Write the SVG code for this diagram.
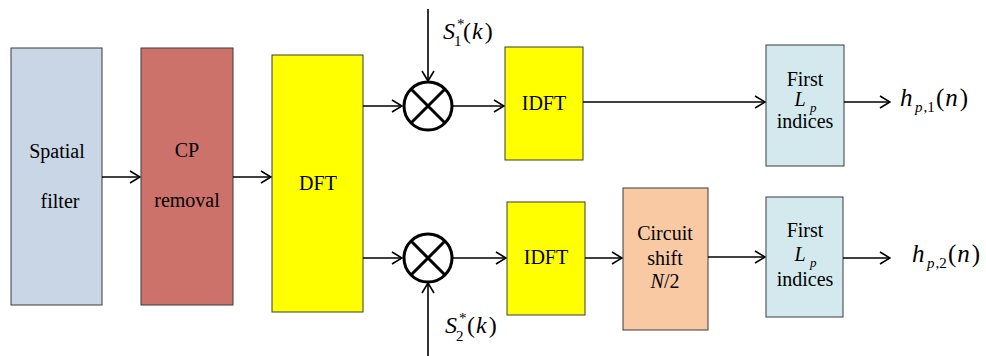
<svg xmlns="http://www.w3.org/2000/svg" width="986" height="356" viewBox="0 0 986 356" font-family="Liberation Serif, serif">
<defs>
<marker id="ah" viewBox="0 0 12 14" refX="11" refY="7" markerWidth="12" markerHeight="14" markerUnits="userSpaceOnUse" orient="auto">
<path d="M1,1 L11,7 L1,13" fill="none" stroke="#000" stroke-width="1.6"/>
</marker>
<style>
.box{stroke:#3a3a3a;stroke-width:1}
.lbl{fill:#000;text-anchor:middle;font-size:20px}
.it{font-style:italic}
.conn line{stroke:#000;stroke-width:1.6;fill:none}
.mul circle{fill:#fff;stroke:#000;stroke-width:3}
.mul path{stroke:#000;stroke-width:3;fill:none}
</style>
</defs>
<rect width="986" height="356" fill="#fff"/>
<g id="spatial"><rect class="box" x="11" y="48" width="91" height="257" fill="#c9d6e6"/>
<text class="lbl" x="57" y="158">Spatial</text><text class="lbl" x="60" y="208">filter</text></g>
<g id="cp"><rect class="box" x="141" y="48" width="92" height="257" fill="#cd726a"/>
<text class="lbl" x="187" y="157">CP</text><text class="lbl" x="187" y="207">removal</text></g>
<g id="dft"><rect class="box" x="272" y="55" width="91" height="257" fill="#ffff00"/>
<text class="lbl" x="318" y="190">DFT</text></g>
<g id="idft1"><rect class="box" x="505" y="47" width="78" height="113" fill="#ffff00"/>
<text class="lbl" x="544" y="110">IDFT</text></g>
<g id="idft2"><rect class="box" x="507" y="202" width="78" height="113" fill="#ffff00"/>
<text class="lbl" x="546" y="264">IDFT</text></g>
<g id="shift"><rect class="box" x="623" y="188" width="85" height="142" fill="#f9c9a4"/>
<text class="lbl" x="665" y="240">Circuit</text><text class="lbl" x="665" y="265">shift</text>
<text class="lbl" x="665" y="288"><tspan class="it">N</tspan>/2</text></g>
<g id="first1"><rect class="box" x="766" y="45" width="78" height="121" fill="#d3e9ee"/>
<text class="lbl" x="805" y="86">First</text>
<text class="lbl it" x="800" y="106">L</text><text x="810" y="112" font-size="13" font-style="italic">p</text>
<text class="lbl" x="805" y="128">indices</text></g>
<g id="first2"><rect class="box" x="766" y="197" width="77" height="120" fill="#d3e9ee"/>
<text class="lbl" x="805" y="237">First</text>
<text class="lbl it" x="800" y="261">L</text><text x="810" y="267" font-size="13" font-style="italic">p</text>
<text class="lbl" x="805" y="286">indices</text></g>
<g id="mul1" class="mul"><circle cx="428" cy="106" r="24"/>
<path d="M411,89 L445,123 M445,89 L411,123"/></g>
<g id="mul2" class="mul"><circle cx="428" cy="258" r="24"/>
<path d="M411,241 L445,275 M445,241 L411,275"/></g>
<g id="connectors" class="conn">
<line x1="102" y1="177" x2="140" y2="177" marker-end="url(#ah)"/>
<line x1="233" y1="177" x2="271" y2="177" marker-end="url(#ah)"/>
<line x1="363" y1="106" x2="402" y2="106" marker-end="url(#ah)"/>
<line x1="363" y1="258" x2="402" y2="258" marker-end="url(#ah)"/>
<line x1="428" y1="9" x2="428" y2="81" marker-end="url(#ah)"/>
<line x1="428" y1="356" x2="428" y2="283" marker-end="url(#ah)"/>
<line x1="453" y1="106" x2="504" y2="106" marker-end="url(#ah)"/>
<line x1="453" y1="258" x2="506" y2="258" marker-end="url(#ah)"/>
<line x1="583" y1="102" x2="765" y2="102" marker-end="url(#ah)"/>
<line x1="585" y1="258" x2="622" y2="258" marker-end="url(#ah)"/>
<line x1="708" y1="257" x2="765" y2="257" marker-end="url(#ah)"/>
<line x1="844" y1="102" x2="890" y2="102" marker-end="url(#ah)"/>
<line x1="843" y1="258" x2="890" y2="258" marker-end="url(#ah)"/>
</g>
<g id="s1" fill="#000">
<text x="443" y="39" font-size="24" font-style="italic">S</text>
<text x="457" y="29" font-size="15">*</text>
<text x="454" y="46" font-size="15">1</text>
<text x="463" y="39" font-size="24">(<tspan font-style="italic" dx="1">k</tspan><tspan dx="2">)</tspan></text>
</g>
<g id="s2" fill="#000">
<text x="445" y="333" font-size="24" font-style="italic">S</text>
<text x="459" y="323" font-size="15">*</text>
<text x="456" y="341" font-size="15">2</text>
<text x="467" y="333" font-size="24">(<tspan font-style="italic" dx="1">k</tspan><tspan dx="2">)</tspan></text>
</g>
<g id="h1" fill="#000">
<text x="900" y="106" font-size="25" font-style="italic">h</text>
<text x="915" y="112" font-size="15"><tspan font-style="italic">p</tspan><tspan dx="1">,1</tspan></text>
<text x="936" y="106" font-size="25">(<tspan font-style="italic" dx="1">n</tspan><tspan dx="2">)</tspan></text>
</g>
<g id="h2" fill="#000">
<text x="912" y="262" font-size="25" font-style="italic">h</text>
<text x="927" y="268" font-size="15"><tspan font-style="italic">p</tspan><tspan dx="1">,2</tspan></text>
<text x="948" y="262" font-size="25">(<tspan font-style="italic" dx="1">n</tspan><tspan dx="2">)</tspan></text>
</g>
</svg>
